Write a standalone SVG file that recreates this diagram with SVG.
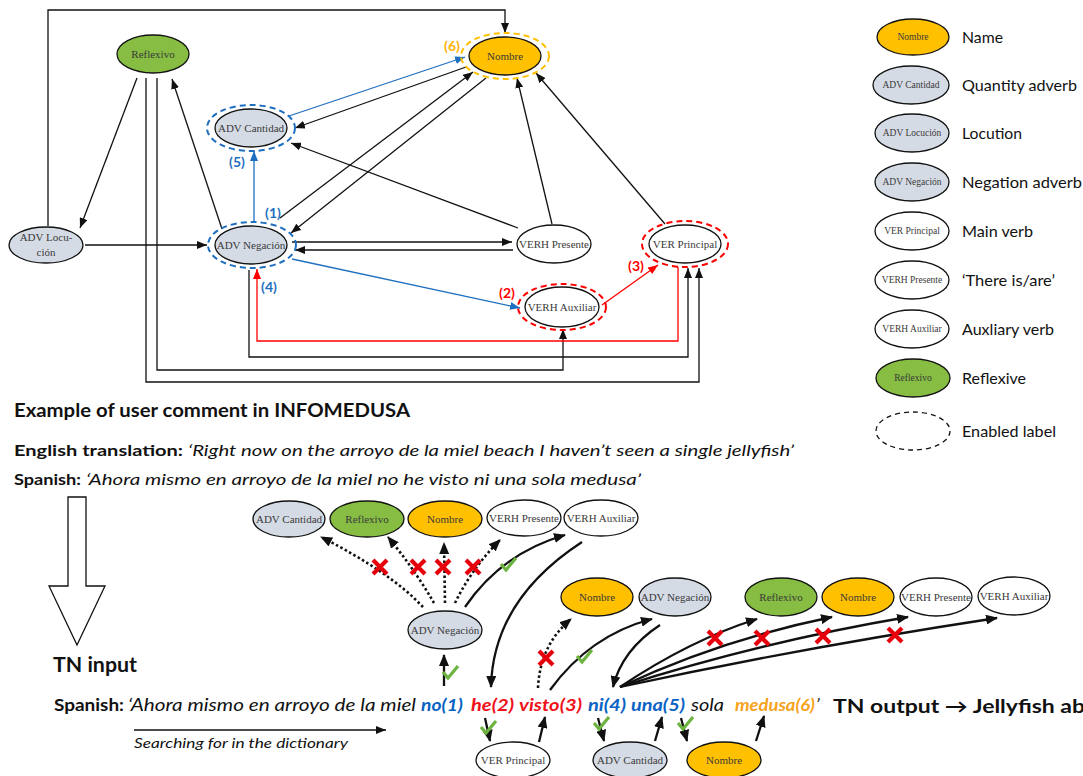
<svg xmlns="http://www.w3.org/2000/svg" xmlns:xlink="http://www.w3.org/1999/xlink" width="1083" height="776" viewBox="0 0 1083 776">
<style>
.n{stroke:#111;stroke-width:1.3}
.gray{fill:#d5dbe5}.org{fill:#ffc000}.grn{fill:#86bd42}.wht{fill:#fff}
.lbl{font-family:"Liberation Serif",serif;font-size:11px;fill:#3a3a3a;text-anchor:middle}
.sl{font-size:9.5px}
.ring{fill:none;stroke-width:2;stroke-dasharray:6 4}
.e{fill:none;stroke:#111;stroke-width:1.3}
.eb{stroke:#1f6fc0}.er{stroke:#f00}
.b{fill:none;stroke:#111;stroke-width:2.3}
.d{stroke-dasharray:2.5 2.5;stroke-width:2.6}
.x{stroke:#e6000b;stroke-width:4.2;fill:none}
.ck{fill:none;stroke:#6db33f;stroke-width:3.2;stroke-linejoin:miter}
.t{font-family:Lato,"Open Sans",sans-serif;fill:#111}
.bd{font-weight:bold}.it{font-style:italic}
.num{font-family:Lato,"Open Sans",sans-serif;font-weight:bold;font-size:14px;text-anchor:middle}
.leg{font-family:Lato,"Open Sans",sans-serif;font-size:15px;fill:#111}
</style>
<defs>
<marker id="ak" markerUnits="userSpaceOnUse" markerWidth="10" markerHeight="8" refX="10" refY="4" orient="auto"><path d="M0,0 L10,4 L0,8 z" fill="#111"/></marker>
<marker id="ab" markerUnits="userSpaceOnUse" markerWidth="10" markerHeight="8" refX="10" refY="4" orient="auto"><path d="M0,0 L10,4 L0,8 z" fill="#1f6fc0"/></marker>
<marker id="ar" markerUnits="userSpaceOnUse" markerWidth="10" markerHeight="8" refX="10" refY="4" orient="auto"><path d="M0,0 L10,4 L0,8 z" fill="#f00"/></marker>
<marker id="aB" markerUnits="userSpaceOnUse" markerWidth="12" markerHeight="10" refX="11" refY="5" orient="auto"><path d="M0,0 L12,5 L0,10 z" fill="#111"/></marker>
<path id="xm" class="x" d="M-7,-7 L7,7 M7,-7 L-7,7"/>
<path id="cm" class="ck" d="M-7,-1 L-2,5 L8,-7"/>
</defs>

<!-- top graph connectors -->
<g id="connectors-top">
<path class="e" d="M48,226 V10 H505 V33" marker-end="url(#ak)"/>
<path class="e" d="M137,78 L80,228" marker-end="url(#ak)"/>
<path class="e" d="M222,229 L172,79" marker-end="url(#ak)"/>
<path class="e" d="M85,245 L207,245" marker-end="url(#ak)"/>
<path class="e eb" d="M254,221 L254,151" marker-end="url(#ab)"/>
<path class="e eb" d="M289,116 L465,57" marker-end="url(#ab)"/>
<path class="e" d="M466,67 L295,128" marker-end="url(#ak)"/>
<path class="e" d="M518,228 L291,143" marker-end="url(#ak)"/>
<path class="e" d="M280,218 L473,72" marker-end="url(#ak)"/>
<path class="e" d="M486,78 L291,233" marker-end="url(#ak)"/>
<path class="e" d="M292,242 L512,242" marker-end="url(#ak)"/>
<path class="e" d="M513,250 L295,250" marker-end="url(#ak)"/>
<path class="e" d="M552,224 L517,78" marker-end="url(#ak)"/>
<path class="e" d="M665,224 L536,73" marker-end="url(#ak)"/>
<path class="e eb" d="M292,259 L520,308" marker-end="url(#ab)"/>
<path class="e er" d="M602,305 L658,265" marker-end="url(#ar)"/>
<path class="e" d="M249,270 V357 H688 V268" marker-end="url(#ak)"/>
<path class="e" d="M157,78 V370 H563 V329" marker-end="url(#ak)"/>
<path class="e" d="M146,78 V382 H699 V268" marker-end="url(#ak)"/>
<path class="e er" d="M678,267 V341 H257 V269" marker-end="url(#ar)"/>
</g>

<!-- top graph nodes -->
<g id="t-reflexivo"><ellipse class="n grn" cx="153" cy="54" rx="36" ry="19"/><text class="lbl" x="153" y="58">Reflexivo</text></g>
<g id="t-nombre"><ellipse class="ring" stroke="#ffc000" cx="505" cy="56" rx="44" ry="23"/><ellipse class="n org" cx="505" cy="56" rx="36" ry="19"/><text class="lbl" x="505" y="60">Nombre</text>
<text class="num" fill="#ffb000" x="452" y="51">(6)</text></g>
<g id="t-cantidad"><ellipse class="ring" stroke="#1f6fc0" cx="251" cy="128" rx="44" ry="23"/><ellipse class="n gray" cx="251" cy="128" rx="36" ry="19"/><text class="lbl" x="251" y="132">ADV Cantidad</text>
<text class="num" fill="#1f6fc0" x="237" y="167">(5)</text></g>
<g id="t-negacion"><ellipse class="ring" stroke="#1f6fc0" cx="252" cy="245" rx="44" ry="23"/><ellipse class="n gray" cx="251" cy="245" rx="36" ry="19"/><text class="lbl" x="251" y="249">ADV Negación</text>
<text class="num" fill="#1f6fc0" x="273" y="218">(1)</text><text class="num" fill="#1f6fc0" x="269" y="292">(4)</text></g>
<g id="t-locucion"><ellipse class="n gray" cx="46" cy="245" rx="37" ry="18"/><text class="lbl" x="46" y="241">ADV Locu-</text><text class="lbl" x="46" y="256">ción</text></g>
<g id="t-presente"><ellipse class="n wht" cx="554" cy="244" rx="37" ry="19"/><text class="lbl" x="554" y="248">VERH Presente</text></g>
<g id="t-principal"><ellipse class="ring" stroke="#f00" cx="685" cy="244" rx="43" ry="23"/><ellipse class="n wht" cx="685" cy="244" rx="36" ry="19"/><text class="lbl" x="685" y="248">VER Principal</text>
<text class="num" fill="#f00" x="636" y="271">(3)</text></g>
<g id="t-auxiliar"><ellipse class="ring" stroke="#f00" cx="562" cy="307" rx="44" ry="23"/><ellipse class="n wht" cx="562" cy="307" rx="37" ry="20"/><text class="lbl" x="562" y="311">VERH Auxiliar</text>
<text class="num" fill="#f00" x="507" y="298">(2)</text></g>

<!-- legend -->
<g id="legend">
<ellipse class="n org" cx="913" cy="37" rx="36" ry="18"/><text class="lbl sl" x="913" y="40">Nombre</text><text class="leg" x="962" y="43" textLength="41" lengthAdjust="spacingAndGlyphs">Name</text>
<ellipse class="n gray" cx="911" cy="85" rx="38" ry="19"/><text class="lbl sl" x="911" y="88">ADV Cantidad</text><text class="leg" x="962" y="91" textLength="115" lengthAdjust="spacingAndGlyphs">Quantity adverb</text>
<ellipse class="n gray" cx="912" cy="133" rx="37" ry="19"/><text class="lbl sl" x="912" y="136">ADV Locución</text><text class="leg" x="962" y="139" textLength="60" lengthAdjust="spacingAndGlyphs">Locution</text>
<ellipse class="n gray" cx="912" cy="182" rx="37" ry="19"/><text class="lbl sl" x="912" y="185">ADV Negación</text><text class="leg" x="962" y="188" textLength="120" lengthAdjust="spacingAndGlyphs">Negation adverb</text>
<ellipse class="n wht" cx="912" cy="231" rx="37" ry="19"/><text class="lbl sl" x="912" y="234">VER Principal</text><text class="leg" x="962" y="237" textLength="71" lengthAdjust="spacingAndGlyphs">Main verb</text>
<ellipse class="n wht" cx="912" cy="280" rx="37" ry="19"/><text class="lbl sl" x="912" y="283">VERH Presente</text><text class="leg" x="962" y="286" textLength="93" lengthAdjust="spacingAndGlyphs">‘There is/are’</text>
<ellipse class="n wht" cx="912" cy="329" rx="37" ry="19"/><text class="lbl sl" x="912" y="332">VERH Auxiliar</text><text class="leg" x="962" y="335" textLength="92" lengthAdjust="spacingAndGlyphs">Auxliary verb</text>
<ellipse class="n grn" cx="913" cy="378" rx="37" ry="19"/><text class="lbl sl" x="913" y="381">Reflexivo</text><text class="leg" x="962" y="384" textLength="64" lengthAdjust="spacingAndGlyphs">Reflexive</text>
<ellipse cx="913" cy="431" rx="37" ry="19" fill="none" stroke="#111" stroke-width="1.3" stroke-dasharray="5 4"/><text class="leg" x="962" y="437" textLength="94" lengthAdjust="spacingAndGlyphs">Enabled label</text>
</g>

<!-- texts -->
<g id="texts">
<text class="t bd" x="14" y="417" font-size="18.5" textLength="396" lengthAdjust="spacingAndGlyphs">Example of user comment in INFOMEDUSA</text>
<text class="t bd" x="14" y="456" font-size="16" textLength="169" lengthAdjust="spacingAndGlyphs">English translation:</text>
<text class="t it" x="188" y="456" font-size="16" textLength="606" lengthAdjust="spacingAndGlyphs">‘Right now on the arroyo de la miel beach I haven’t seen a single jellyfish’</text>
<text class="t bd" x="14" y="485" font-size="16" textLength="67" lengthAdjust="spacingAndGlyphs">Spanish:</text>
<text class="t it" x="86" y="485" font-size="16" textLength="555" lengthAdjust="spacingAndGlyphs">‘Ahora mismo en arroyo de la miel no he visto ni una sola medusa’</text>
<text class="t bd" x="53" y="672" font-size="20" textLength="84" lengthAdjust="spacingAndGlyphs">TN input</text>
<text class="t bd" x="54" y="711" font-size="17.5" textLength="70" lengthAdjust="spacingAndGlyphs">Spanish:</text>
<text class="t it" x="128" y="711" font-size="17.5" textLength="288" lengthAdjust="spacingAndGlyphs">‘Ahora mismo en arroyo de la miel</text>
<text class="t bd it" x="421" y="711" font-size="17.5" style="fill:#0a63c4" textLength="42" lengthAdjust="spacingAndGlyphs">no(1)</text>
<text class="t bd it" x="471" y="711" font-size="17.5" style="fill:#f0101a" textLength="43" lengthAdjust="spacingAndGlyphs">he(2)</text>
<text class="t bd it" x="519" y="711" font-size="17.5" style="fill:#f0101a" textLength="63" lengthAdjust="spacingAndGlyphs">visto(3)</text>
<text class="t bd it" x="588" y="711" font-size="17.5" style="fill:#0a63c4" textLength="38" lengthAdjust="spacingAndGlyphs">ni(4)</text>
<text class="t bd it" x="631" y="711" font-size="17.5" style="fill:#0a63c4" textLength="54" lengthAdjust="spacingAndGlyphs">una(5)</text>
<text class="t it" x="691" y="711" font-size="17.5" textLength="33" lengthAdjust="spacingAndGlyphs">sola</text>
<text class="t bd it" x="735" y="711" font-size="17.5" style="fill:#f7a21b" textLength="80" lengthAdjust="spacingAndGlyphs">medusa(6)</text>
<text class="t it" x="816" y="711" font-size="17.5">’</text>
<text class="t bd" x="833" y="713" font-size="19" textLength="252" lengthAdjust="spacingAndGlyphs">TN output → Jellyfish ab</text>
<text class="t it" x="134" y="748" font-size="14" textLength="214" lengthAdjust="spacingAndGlyphs">Searching for in the dictionary</text>
</g>

<!-- hollow arrow and dictionary arrow -->
<g id="decor">
<path d="M68,497 H86 V586 H105 L77,645 L49,586 H68 Z" fill="#fff" stroke="#111" stroke-width="1.3"/>
<path class="e" d="M134,730 H386" marker-end="url(#ak)"/>
</g>

<!-- bottom connectors -->
<g id="connectors-bottom">
<path class="b d" d="M423,607 Q390,572 321,537" marker-end="url(#aB)"/>
<path class="b d" d="M434,603 Q415,570 388,537" marker-end="url(#aB)"/>
<path class="b d" d="M445,603 L444,543" marker-end="url(#aB)"/>
<path class="b d" d="M455,603 Q472,568 500,540" marker-end="url(#aB)"/>
<path class="b" d="M465,607 Q502,553 565,535" marker-end="url(#aB)"/>
<path class="b" d="M582,542 Q493,600 491,687" marker-end="url(#aB)"/>
<path class="b" d="M444,686 L444,655" marker-end="url(#aB)"/>
<path class="b d" d="M538,688 Q540,645 571,619" marker-end="url(#aB)"/>
<path class="b" d="M550,690 Q590,635 652,619" marker-end="url(#aB)"/>
<path class="b" d="M660,625 Q622,650 613,687" marker-end="url(#aB)"/>
<path class="b" d="M620,687 Q690,640 757,619" marker-end="url(#aB)"/>
<path class="b" d="M620,687 Q720,640 832,617" marker-end="url(#aB)"/>
<path class="b" d="M620,687 Q760,642 908,617" marker-end="url(#aB)"/>
<path class="b" d="M620,687 Q800,648 997,618" marker-end="url(#aB)"/>
<path class="b" d="M485,718 L490,741" marker-end="url(#aB)"/>
<path class="b" d="M539,742 L545,717" marker-end="url(#aB)"/>
<path class="b" d="M598,718 L604,741" marker-end="url(#aB)"/>
<path class="b" d="M655,741 L662,717" marker-end="url(#aB)"/>
<path class="b" d="M681,718 L687,741" marker-end="url(#aB)"/>
<path class="b" d="M756,741 L764,716" marker-end="url(#aB)"/>
<use href="#xm" x="380" y="567"/><use href="#xm" x="418" y="567"/><use href="#xm" x="443" y="567"/><use href="#xm" x="473" y="567"/>
<use href="#xm" x="546" y="658"/><use href="#xm" x="715" y="638"/><use href="#xm" x="762" y="638"/><use href="#xm" x="823" y="636"/><use href="#xm" x="895" y="635"/>
<use href="#cm" x="508" y="565"/><use href="#cm" x="450" y="673"/><use href="#cm" x="584" y="657"/><use href="#cm" x="488" y="728"/><use href="#cm" x="601" y="724"/><use href="#cm" x="685" y="724"/>
</g>

<!-- bottom nodes -->
<g id="b-cantidad1"><ellipse class="n gray" cx="289" cy="519" rx="36" ry="18"/><text class="lbl" x="289" y="523">ADV Cantidad</text></g>
<g id="b-reflexivo1"><ellipse class="n grn" cx="367" cy="519" rx="37" ry="18"/><text class="lbl" x="367" y="523">Reflexivo</text></g>
<g id="b-nombre1"><ellipse class="n org" cx="445" cy="519" rx="37" ry="18"/><text class="lbl" x="445" y="523">Nombre</text></g>
<g id="b-presente1"><ellipse class="n wht" cx="524" cy="518" rx="37" ry="18"/><text class="lbl" x="524" y="522">VERH Presente</text></g>
<g id="b-auxiliar1"><ellipse class="n wht" cx="601" cy="518" rx="37" ry="18"/><text class="lbl" x="601" y="522">VERH Auxiliar</text></g>
<g id="b-negacion1"><ellipse class="n gray" cx="445" cy="630" rx="37" ry="19"/><text class="lbl" x="445" y="634">ADV Negación</text></g>
<g id="b-nombre2"><ellipse class="n org" cx="597" cy="597" rx="36" ry="19"/><text class="lbl" x="597" y="601">Nombre</text></g>
<g id="b-negacion2"><ellipse class="n gray" cx="675" cy="597" rx="36" ry="19"/><text class="lbl" x="675" y="601">ADV Negación</text></g>
<g id="b-reflexivo2"><ellipse class="n grn" cx="781" cy="597" rx="36" ry="19"/><text class="lbl" x="781" y="601">Reflexivo</text></g>
<g id="b-nombre3"><ellipse class="n org" cx="858" cy="597" rx="36" ry="19"/><text class="lbl" x="858" y="601">Nombre</text></g>
<g id="b-presente2"><ellipse class="n wht" cx="936" cy="597" rx="36" ry="19"/><text class="lbl" x="936" y="601">VERH Presente</text></g>
<g id="b-auxiliar2"><ellipse class="n wht" cx="1014" cy="596" rx="36" ry="19"/><text class="lbl" x="1014" y="600">VERH Auxiliar</text></g>
<g id="b-principal"><ellipse class="n wht" cx="513" cy="760" rx="37" ry="18"/><text class="lbl" x="513" y="764">VER Principal</text></g>
<g id="b-cantidad2"><ellipse class="n gray" cx="630" cy="760" rx="37" ry="18"/><text class="lbl" x="630" y="764">ADV Cantidad</text></g>
<g id="b-nombre4"><ellipse class="n org" cx="724" cy="760" rx="37" ry="18"/><text class="lbl" x="724" y="764">Nombre</text></g>
</svg>
